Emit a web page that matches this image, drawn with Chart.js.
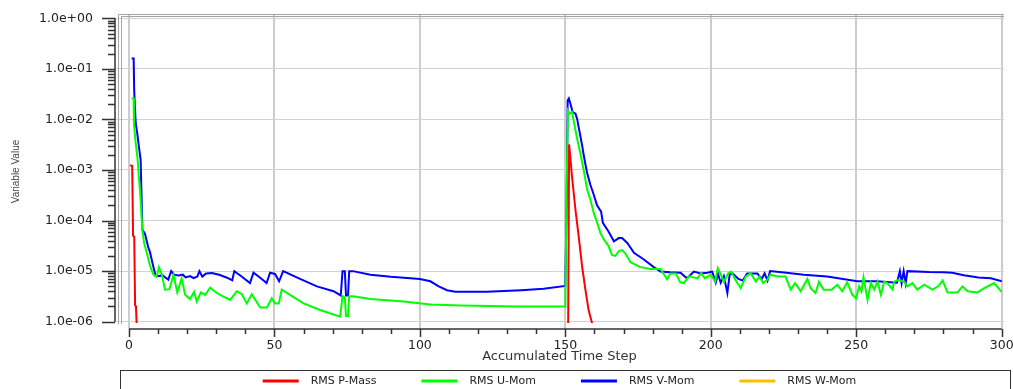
<!DOCTYPE html>
<html>
<head>
<meta charset="utf-8">
<script src="https://cdn.jsdelivr.net/npm/chart.js@4.4.1/dist/chart.umd.min.js"></script>
<style>
  html, body { margin: 0; padding: 0; background: #fff; }
  #wrap { width: 1013px; height: 389px; position: relative; }
</style>
</head>
<body>
<div id="wrap"><canvas id="myChart"></canvas></div>
<script>
const seriesNames = ['RMS P-Mass', 'RMS U-Mom', 'RMS V-Mom', 'RMS W-Mom']
const seriesColors = ['#ff0000', '#00ff00', '#0000ff', '#ffbf00']

// [accumulated time step, value]
const pMass = [
  [0.4, 1.25e-3], [1.1, 1.2e-3], [1.4, 5e-5], [1.8, 4.8e-5], [2.1, 2.1e-6], [2.4, 2e-6], [2.8, 5e-7],
  [3, null],
  [150.8, 1e-8], [151.3, 3.2e-3], [152.3, 7.4e-4], [153.5, 1.6e-4], [154.6, 4.8e-5], [155.8, 1.2e-5],
  [156.9, 4.3e-6], [158, 1.7e-6], [159.2, 9.3e-7], [160, 5e-7]
]

const uMom = [
  [0.9, 0.026], [1.6, 0.026], [1.7, 8.3e-3], [2.3, 3.4e-3], [2.9, 1.8e-3], [3.4, 7.4e-4], [4.0, 2.6e-4],
  [4.6, 6.6e-5], [5.2, 3.6e-5], [6.1, 2.3e-5], [7.2, 1.3e-5], [8.4, 8.5e-6], [9.5, 7.7e-6], [10.3, 1.2e-5],
  [11.2, 9e-6], [12.4, 4.3e-6], [13.9, 4.4e-6], [15.3, 8.5e-6], [16.6, 3.8e-6], [18.1, 7.2e-6], [19.3, 3.4e-6],
  [21, 2.8e-6], [22.4, 3.9e-6], [23.3, 2.5e-6], [24.7, 3.8e-6], [26.2, 3.4e-6], [27.9, 4.7e-6], [29.6, 3.9e-6],
  [31.3, 3.4e-6], [34.8, 2.7e-6], [37.1, 4e-6], [38.8, 3.5e-6], [40.5, 2.3e-6], [42.2, 3.5e-6], [45.1, 1.9e-6],
  [47.4, 1.9e-6], [49.1, 2.9e-6], [50.2, 2.3e-6], [51.5, 2.3e-6], [52.5, 4.3e-6], [60, 2.3e-6], [65.7, 1.7e-6],
  [72.6, 1.26e-6], [73.4, 3.2e-6], [74.2, 3e-6], [74.6, 1.3e-6], [75.3, 1.3e-6], [75.7, 3.2e-6], [77, 3.2e-6],
  [83, 2.8e-6], [94.4, 2.5e-6], [103.6, 2.2e-6], [113.9, 2.1e-6], [133.4, 2e-6], [150, 2e-6],
  [150.4, 3e-4], [150.9, 0.015], [151.5, 0.013], [152.3, 0.014], [153, 8.5e-3], [154.1, 4e-3], [155.2, 2.1e-3],
  [156.3, 1e-3], [157.5, 4.1e-4], [158.6, 2.6e-4], [159.8, 1.4e-4], [161, 8.9e-5], [162.1, 5.6e-5],
  [163.3, 4.2e-5], [164.9, 3.1e-5], [166, 2.1e-5], [167.2, 2e-5], [168.4, 2.5e-5], [169.5, 2.6e-5],
  [170.5, 2.3e-5], [172.4, 1.5e-5], [175.8, 1.2e-5], [179.3, 1.1e-5], [182.7, 1.1e-5], [185, 6.9e-6],
  [186.1, 9e-6], [188, 9e-6], [189.5, 6e-6], [190.8, 5.8e-6], [192.5, 8e-6], [195.4, 7.2e-6], [196.7, 9.1e-6],
  [198, 7.2e-6], [200, 8.5e-6], [201.5, 6.2e-6], [202.4, 1.15e-5], [203, 9.8e-6], [204.5, 6.2e-6], [206, 9.1e-6],
  [207, 9.8e-6], [208.5, 6.7e-6], [210.3, 4.6e-6], [212, 7.8e-6], [213.7, 9.1e-6], [215.5, 6.2e-6],
  [216.7, 7.8e-6], [218, 5.8e-6], [219.4, 6.7e-6], [220.5, 8.5e-6], [223, 7.8e-6], [225.7, 7.8e-6],
  [227.5, 4.3e-6], [229, 5.8e-6], [230.9, 4e-6], [233.2, 7e-6], [234.3, 4.6e-6], [236, 3.7e-6], [237.2, 6.2e-6],
  [238.8, 4.3e-6], [241.5, 4.3e-6], [243.5, 5.4e-6], [245.2, 4e-6], [246.9, 6e-6], [248.7, 3.4e-6], [250, 2.9e-6],
  [251, 5e-6], [251.8, 4e-6], [252.5, 7.5e-6], [253.9, 2.7e-6], [255, 5.8e-6], [256.2, 4.3e-6], [257.3, 6.2e-6],
  [258.5, 3.4e-6], [259.6, 6.2e-6], [260.7, 5.8e-6], [262.5, 4.3e-6], [263, 6.2e-6], [264.6, 6.7e-6],
  [266.4, 6.2e-6], [267.6, 5e-6], [269.3, 5.8e-6], [271, 4.3e-6], [273.4, 5.4e-6], [276.2, 4.3e-6], [278.2, 5e-6],
  [279.7, 6.5e-6], [281.4, 3.8e-6], [284.8, 3.8e-6], [286.5, 5e-6], [288.3, 4e-6], [291.7, 3.8e-6], [294, 4.6e-6],
  [297.4, 5.8e-6], [300, 3.9e-6]
]

const vMom = [
  [0.9, 0.16], [1.6, 0.16], [1.8, 0.035], [2.3, 8.5e-3], [2.9, 5e-3], [3.4, 2.9e-3], [4.0, 1.6e-3], [4.6, 6.6e-5],
  [5.5, 5.5e-5], [6.6, 3e-5], [7.2, 2.4e-5], [7.8, 1.7e-5], [8.4, 1.2e-5], [9.2, 8e-6], [10.5, 8e-6],
  [11.5, 8.3e-6], [12.5, 7.5e-6], [13.5, 6.8e-6], [14.5, 1e-5], [15.5, 8.5e-6], [17, 8.2e-6], [18.5, 8.5e-6],
  [19.5, 7.5e-6], [21, 8e-6], [22.2, 7.3e-6], [23.5, 7.8e-6], [24.2, 1e-5], [25.2, 7.8e-6], [26.5, 9e-6],
  [28.5, 9.2e-6], [31, 8.5e-6], [33.5, 7.5e-6], [35.5, 6.6e-6], [36.2, 1e-5], [38.5, 8e-6], [41.6, 5.8e-6],
  [42.8, 9.3e-6], [45, 7.5e-6], [47.3, 5.8e-6], [48.5, 9.3e-6], [50.2, 8.8e-6], [51.6, 6.3e-6], [53, 1e-5],
  [58.8, 7e-6], [64.6, 5e-6], [70.3, 4e-6], [72.8, 3.3e-6], [73.4, 1e-5], [74.2, 1e-5], [74.6, 3.3e-6],
  [75.3, 3.3e-6], [75.7, 1e-5], [77, 1e-5], [83, 8.5e-6], [90, 7.7e-6], [96.7, 7.2e-6], [100, 7e-6],
  [103.6, 6.3e-6], [106.5, 5e-6], [109.3, 4.2e-6], [112.2, 3.9e-6], [123, 3.9e-6], [134.9, 4.2e-6],
  [142.5, 4.5e-6], [150, 5.1e-6], [150.5, 3.5e-4], [150.8, 0.024], [151.2, 0.026], [151.8, 0.02],
  [152.5, 0.014], [153.5, 0.013], [154.1, 0.01], [154.7, 6.5e-3], [155.2, 4.6e-3], [155.8, 3e-3], [156.3, 2e-3],
  [156.9, 1.3e-3], [157.5, 8.7e-4], [158.6, 5.1e-4], [159.8, 3.2e-4], [160.9, 2e-4], [162.3, 1.5e-4],
  [162.9, 9e-5], [164.9, 6e-5], [166.7, 3.9e-5], [168.4, 4.5e-5], [169.5, 4.5e-5], [171.3, 3.6e-5],
  [173.6, 2.3e-5], [177, 1.7e-5], [180.4, 1.2e-5], [182.7, 9.8e-6], [186, 9.5e-6], [189.6, 9.3e-6],
  [191.8, 7.2e-6], [194.2, 9.8e-6], [196.5, 9e-6], [198.8, 9.3e-6], [200.5, 9.8e-6], [201.7, 5.9e-6],
  [202.5, 8.8e-6], [203.4, 5.9e-6], [204.5, 8e-6], [205.7, 3.7e-6], [206.5, 8.6e-6], [207.5, 9e-6],
  [209.5, 7e-6], [211, 6.5e-6], [212.5, 9e-6], [216, 9e-6], [217.5, 7e-6], [218.5, 9e-6], [219.5, 6.5e-6],
  [220.4, 1e-5], [226, 9.3e-6], [232, 8.5e-6], [240, 7.8e-6], [250.4, 6.3e-6], [257, 6.3e-6], [264, 5.9e-6],
  [265, 1e-5], [265.6, 5.8e-6], [266.3, 1e-5], [267, 5.8e-6], [267.6, 1e-5], [275, 9.6e-6], [280, 9.5e-6],
  [283, 9.3e-6], [287, 8.3e-6], [292, 7.5e-6], [296.3, 7.2e-6], [300, 6.3e-6]
]

const wMom = []

const xTickValues = [0, 50, 100, 150, 200, 250, 300]
const yTickValues = [1, 1e-1, 1e-2, 1e-3, 1e-4, 1e-5, 1e-6]
const yTickLabels = ['1.0e+00', '1.0e-01', '1.0e-02', '1.0e-03', '1.0e-04', '1.0e-05', '1.0e-06']

const toPoints = rows => rows.map(r => ({ x: r[0], y: r[1] }))
const allSeries = [pMass, uMom, vMom, wMom]

// frame, axis lines, tick marks and the boxed legend
const decor = {
  id: 'decor',
  beforeDatasetsDraw(chart) {
    const { ctx, chartArea: a, scales: { x, y } } = chart
    ctx.save()
    ctx.strokeStyle = '#a4a4a4'
    ctx.lineWidth = 1
    ctx.beginPath()
    ctx.moveTo(a.left + 3.5, a.bottom - 5); ctx.lineTo(a.left + 3.5, a.top + 0.5); ctx.lineTo(a.right, a.top + 0.5)
    ctx.moveTo(a.left + 6.5, a.bottom - 5); ctx.lineTo(a.left + 6.5, a.top + 2.5); ctx.lineTo(a.right, a.top + 2.5)
    ctx.stroke()

    ctx.strokeStyle = '#333'
    ctx.lineWidth = 1.5
    ctx.beginPath()
    // y axis
    ctx.moveTo(a.left, y.getPixelForValue(1)); ctx.lineTo(a.left, y.getPixelForValue(1e-6))
    yTickValues.forEach(v => {
      const py = Math.round(y.getPixelForValue(v)) + 0.5
      ctx.moveTo(a.left - 13, py); ctx.lineTo(a.left, py)
    })
    for (let k = -6; k < 0; k++) {
      for (let m = 2; m <= 9; m++) {
        const py = Math.round(y.getPixelForValue(m * Math.pow(10, k))) + 0.5
        ctx.moveTo(a.left - 7, py); ctx.lineTo(a.left, py)
      }
    }
    // x axis
    ctx.moveTo(x.getPixelForValue(0), a.bottom); ctx.lineTo(x.getPixelForValue(300), a.bottom)
    for (let s = 0; s <= 300; s += 10) {
      const px = Math.round(x.getPixelForValue(s)) + 0.5
      ctx.moveTo(px, a.bottom); ctx.lineTo(px, a.bottom + (s % 50 === 0 ? 8 : 5))
    }
    ctx.stroke()
    ctx.restore()
  },
  afterDraw(chart) {
    const { ctx, chartArea: a } = chart
    ctx.save()
    ctx.strokeStyle = '#333'
    ctx.lineWidth = 1
    ctx.strokeRect(120.5, 370.5, 890, 40)

    ctx.font = '11px "DejaVu Sans"'
    ctx.textBaseline = 'middle'
    ctx.textAlign = 'left'
    const ds = chart.data.datasets
    const widths = ds.map(d => ctx.measureText(d.label).width)
    const lineLen = 36, textGap = 12, itemGap = 45
    const total = widths.reduce((s, w) => s + lineLen + textGap + w, 0) + itemGap * (ds.length - 1)
    let cx = (a.left + a.right) / 2 - total / 2
    const cy = 381
    ds.forEach((d, i) => {
      ctx.strokeStyle = d.borderColor
      ctx.lineWidth = 3
      ctx.beginPath()
      ctx.moveTo(cx, cy); ctx.lineTo(cx + lineLen, cy)
      ctx.stroke()
      ctx.fillStyle = '#222'
      ctx.fillText(d.label, cx + lineLen + textGap, cy)
      cx += lineLen + textGap + widths[i] + itemGap
    })
    ctx.restore()
  }
}

const ctx = document.getElementById('myChart').getContext('2d')
new Chart(ctx, {
  type: 'line',
  data: {
    datasets: seriesNames.map((name, i) => ({
      label: name,
      data: toPoints(allSeries[i]),
      borderColor: seriesColors[i],
      backgroundColor: seriesColors[i],
      borderWidth: 2,
      pointRadius: 0,
      tension: 0,
      spanGaps: false,
      clip: { left: -5, top: 0, right: 0, bottom: -6 }
    }))
  },
  options: {
    responsive: true,
    maintainAspectRatio: false,
    animation: false,
    devicePixelRatio: 1,
    layout: { padding: { left: 0, right: 9, top: 14, bottom: 25 } },
    plugins: {
      legend: { display: false },
      tooltip: { enabled: false }
    },
    scales: {
      x: {
        type: 'linear',
        min: -4.81,
        max: 300.8,
        bounds: 'data',
        afterBuildTicks: scale => { scale.ticks = xTickValues.map(v => ({ value: v })) },
        afterFit: scale => {
          scale.height = 35
          scale.paddingLeft = 0
          scale.paddingRight = 0
        },
        grid: { color: '#cccccc', lineWidth: 2, drawTicks: false },
        border: { display: false },
        ticks: {
          autoSkip: false,
          maxRotation: 0,
          padding: 9,
          color: '#222',
          font: { family: 'DejaVu Sans', size: 12.5 },
          callback: v => String(v)
        },
        title: {
          display: true,
          text: 'Accumulated Time Step',
          color: '#333',
          font: { family: 'DejaVu Sans', size: 13 },
          padding: { top: 0, bottom: 0 }
        }
      },
      y: {
        type: 'logarithmic',
        min: 7.17e-7,
        max: 1.216,
        afterBuildTicks: scale => { scale.ticks = yTickValues.map(v => ({ value: v })) },
        afterFit: scale => {
          scale.width = 115
          scale.paddingTop = 0
          scale.paddingBottom = 0
        },
        grid: { color: '#d2d2d2', lineWidth: 1, drawTicks: false },
        border: { display: false },
        ticks: {
          autoSkip: false,
          padding: 22,
          color: '#222',
          font: { family: 'DejaVu Sans', size: 12.5 },
          callback: v => yTickLabels[yTickValues.indexOf(v)] || ''
        },
        title: {
          display: true,
          text: 'Variable Value',
          color: '#444',
          font: { family: 'Liberation Sans', size: 10 },
          padding: { top: 10, bottom: 0 }
        }
      }
    }
  },
  plugins: [decor]
})
</script>
</body>
</html>
